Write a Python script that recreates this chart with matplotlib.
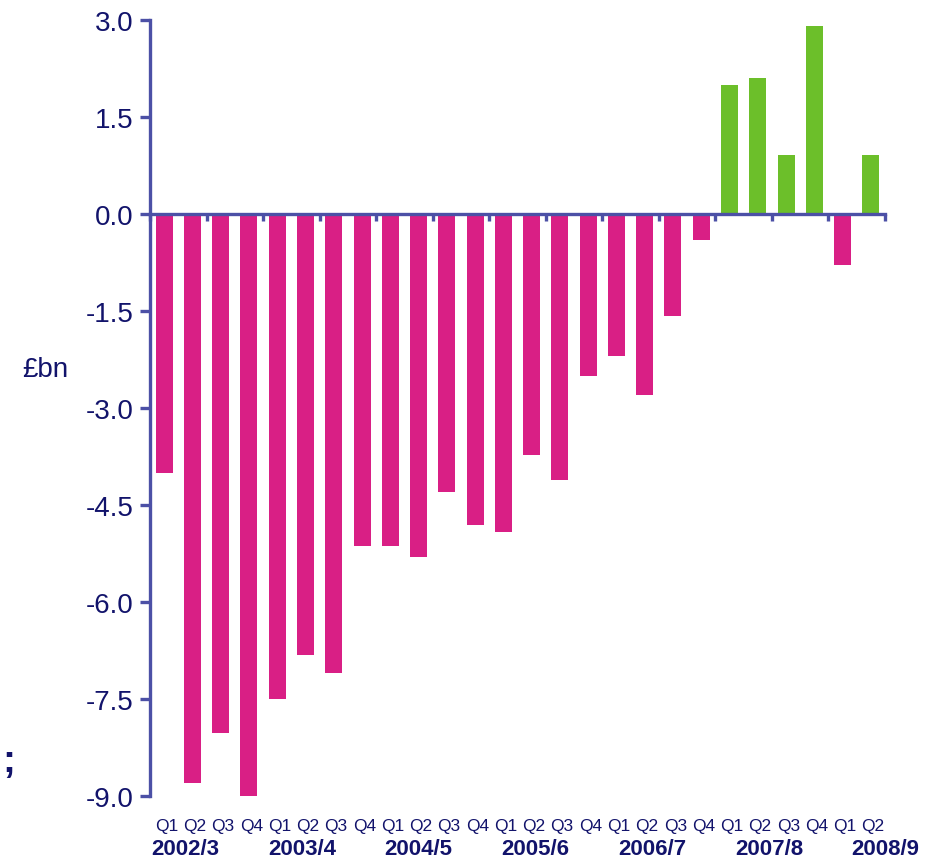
import matplotlib.pyplot as plt
import numpy as np

plt.rcParams["font.family"] = ["Liberation Sans", "DejaVu Sans"]

years = ["2002/3", "2003/4", "2004/5", "2005/6", "2006/7", "2007/8", "2008/9"]
quarters = ["Q1", "Q2", "Q3", "Q4"] * 6 + ["Q1", "Q2"]
values = [-4.0, -8.8, -8.02, -9.0,
          -7.5, -6.82, -7.1, -5.13,
          -5.13, -5.3, -4.3, -4.81,
          -4.92, -3.72, -4.11, -2.5,
          -2.2, -2.8, -1.58, -0.4,
          2.0, 2.1, 0.91, 2.9,
          -0.79, 0.91]
yticks = [3.0, 1.5, 0.0, -1.5, -3.0, -4.5, -6.0, -7.5, -9.0]

navy = "#12136b"
axis_col = "#4c50a6"
pink = "#d91f85"
green = "#6cbf2a"

fig = plt.figure(figsize=(9.29, 8.62), dpi=100)
ax = fig.add_axes([150 / 929, 1 - 797 / 862, (885 - 150) / 929, (797 - 21) / 862])

x = np.arange(len(values))
colors = [green if v > 0 else pink for v in values]
ax.bar(x, values, width=0.6, color=colors, zorder=2)

ax.set_xlim(-0.5, len(values) - 0.5)
ax.set_ylim(-9.0, 3.0)
ax.set_yticks(yticks)
ax.set_yticklabels([f"{t:.1f}" for t in yticks], fontsize=20, color=navy)

ax.set_xticks(np.arange(-0.5, len(values), 2))
ax.set_xticklabels([])

for s in ["top", "right"]:
    ax.spines[s].set_visible(False)
ax.spines["bottom"].set_position(("data", 0))
ax.spines["bottom"].set_zorder(3)
for s in ["left", "bottom"]:
    ax.spines[s].set_color(axis_col)
    ax.spines[s].set_linewidth(2.4)
ax.tick_params(axis="y", direction="out", length=7, width=2.4, color=axis_col, pad=5)
ax.tick_params(axis="x", direction="out", length=5, width=2.4, color=axis_col)

trans = ax.get_xaxis_transform()
for i, q in enumerate(quarters):
    ax.text(x[i] + 0.08, -0.038, q, transform=trans, ha="center", va="center",
            fontsize=12.5, color=navy)
for i, y in enumerate(years):
    cx = 4 * i - 0.5 + 1.24 + 0.13 * i
    ax.text(cx, -0.068, y, transform=trans, ha="center", va="center",
            fontsize=16, fontweight="bold", color=navy)

fig.text(22 / 929, 1 - 370 / 862, "£bn", fontsize=20, color=navy, va="center", ha="left")
fig.text(2 / 929, 1 - 762 / 862, ";", fontsize=28, fontweight="bold", color=navy,
         va="center", ha="left")

fig.savefig("out.png", dpi=100)
